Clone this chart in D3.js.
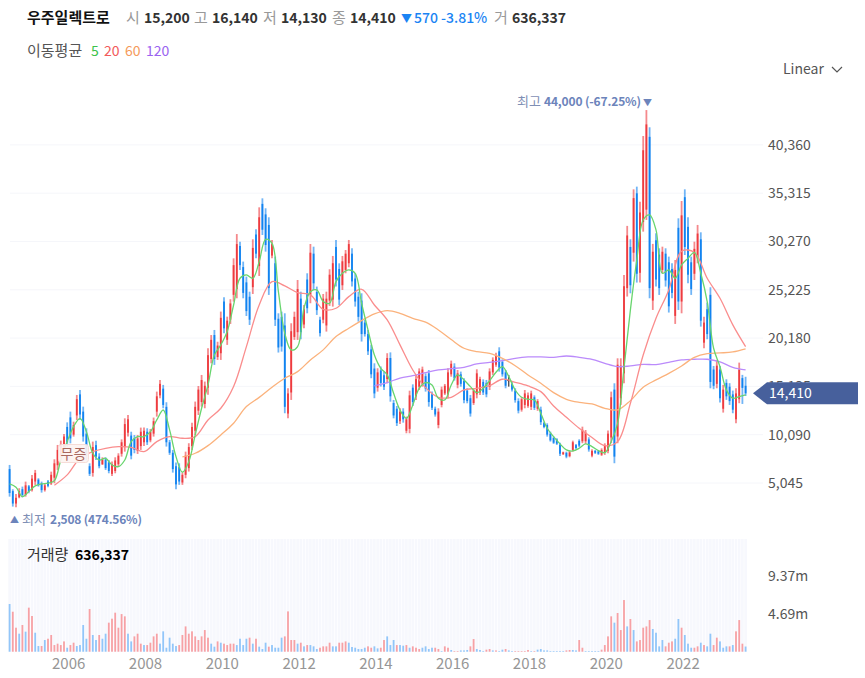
<!DOCTYPE html>
<html>
<head>
<meta charset="utf-8">
<script src="https://cdn.jsdelivr.net/npm/d3@7"></script>
<style>
    html, body { margin: 0; padding: 0; background: #fff; }
    text { font-family: "Noto Sans CJK KR", "Noto Sans", sans-serif; }
    .axis path, .axis line { display: none; }
</style>
</head>
<body>
<svg id="chart" width="865" height="678"></svg>
<script>
// monthly candles, 2004-07 onward
var highs = [6930,4390,3900,4500,4670,5190,4840,5890,6410,5540,
    5190,5020,5370,6230,7520,9020,9470,10170,11380,12500,
    11450,14240,14760,13020,10760,7100,9370,9470,8150,7730,
    7730,7450,7280,7730,8150,9600,11800,12150,10400,10060,
    10060,10830,10830,10760,10690,11880,14590,15810,15290,13480,
    9540,8500,7180,7100,6130,8320,9200,11350,13550,15180,
    16330,15640,19110,20500,21030,19800,22950,24440,22420,24240,
    28510,31050,30250,28170,26600,25030,30500,31540,33840,34780,
    33740,32800,30430,28690,22770,22940,22770,14940,21730,22940,
    26250,25030,23640,26950,30010,29730,25560,22420,24790,25030,
    27370,28760,30430,27990,28760,29380,30430,29560,26950,25030,
    24860,22080,21030,19470,17550,17030,17210,16680,18600,18690,
    13720,13090,12850,12850,11980,14690,15350,16330,17020,17200,
    16500,16850,14590,13020,12850,15110,15390,17020,17830,17550,
    16850,16680,15980,14940,14240,14940,16920,16150,15870,15810,
    17020,18170,18660,19220,17960,16850,16330,15630,14940,13890,
    14000,14760,14500,14690,14200,13800,13020,11450,11280,10410,
    9890,9720,9260,8320,8320,8390,9470,9130,9610,10930,
    10580,9820,8570,8500,8430,8670,9190,10520,14590,15460,
    18070,18070,26780,31900,30500,35720,36000,34430,41290,44000,
    42200,30020,31130,29560,29730,29560,28690,27990,28340,32690,
    34500,35720,32800,28690,30250,32000,31230,22420,23880,25490,
    17270,17900,17270,15290,15880,15470,14700,14940,17620,16340,
    16140];
var lows = [3620,2580,2508,3450,3550,3620,3970,4150,4840,4670,
    4040,4150,4600,4840,5020,6410,7630,8500,8840,9190,
    9890,11630,11630,9370,7450,5780,5710,7450,6580,6930,
    6410,6060,5780,6060,6760,7800,8320,9900,7520,8150,
    8080,8500,8920,9020,9300,9890,11980,13900,12850,8850,
    7980,6130,4390,4850,4850,5540,6240,8500,10060,12150,
    13020,12850,14250,17550,17380,17900,17900,20680,19470,21660,
    23990,24340,27300,24340,22490,21550,24790,28520,26670,30950,
    29210,24690,28520,21450,18670,18770,12330,11810,13720,19990,
    19990,20060,21200,22770,23820,25210,22600,20340,21730,20860,
    23540,23470,25560,23640,25210,26950,27580,25560,23470,21900,
    19820,20340,18420,15990,13900,14590,15120,14770,15460,13540,
    11800,11000,11210,11350,10240,10240,13090,13720,14760,15110,
    14590,13020,12670,11980,10760,12950,14240,13890,16150,15740,
    14940,15110,13370,13370,11980,13200,13890,14240,14240,14000,
    14760,16330,17200,16680,16150,14940,15110,14590,13440,12320,
    12500,12850,12900,12670,12670,12590,11110,10760,9890,9370,
    9130,9020,7870,7980,7630,7730,8320,8570,8780,9200,
    9130,8320,7730,8080,7980,7870,7980,8150,9200,7110,
    9200,13200,15460,24520,24860,28170,25980,25980,31300,32520,
    24340,23120,25560,24690,26950,25560,22850,24340,21660,23120,
    22770,28860,25900,24690,26250,27990,21380,19120,20060,14940,
    14840,14940,13450,12400,13730,13200,12330,11290,13380,13300,
    14130];
var opens = [6500,4200,2900,3550,4400,3800,4700,4300,5200,5400,
    5000,4300,5200,5000,5600,6900,8000,8800,10900,11900,
    10100,12100,14300,12500,10200,6800,6100,9000,7800,7000,
    7500,7200,6000,6300,7000,8100,8800,10300,10000,9700,
    8400,8900,9300,10400,9500,10200,12500,14200,14900,13000,
    9300,8200,6800,6700,5100,5900,6600,8900,10500,12600,
    13500,13300,15000,18000,20500,18200,18600,24000,20000,22100,
    24700,25300,29800,27600,26000,24500,25500,31000,27700,34200,
    33100,32000,28800,28000,22200,22400,21500,12300,14500,20300,
    20800,24300,21600,26300,24700,29000,25000,22100,22100,21500,
    24100,24200,29700,27400,25700,27300,28000,29000,26400,24500,
    24100,21800,20600,19000,17000,15000,16800,16300,15900,18100,
    13400,12800,11500,12500,10500,10700,15000,14100,15100,15400,
    16200,16500,14300,12800,11100,13200,14400,14300,16400,17200,
    15300,16400,15700,14700,13900,13400,14300,14500,15600,15500,
    15100,16600,17400,18800,17700,16600,15800,15400,14700,13600,
    12700,13200,13100,13000,14000,12800,12700,11300,11100,10200,
    9750,9600,9050,8050,8200,7850,8500,9000,9450,9400,
    9400,9600,7900,8400,8350,8000,8200,8400,9800,14800,
    9900,13900,16500,25400,29700,29100,35300,27000,32300,33600,
    41200,24100,30400,28900,27300,29000,28100,27400,22500,31700,
    24000,34900,31800,28100,26900,28600,30500,19700,23200,24700,
    16900,15400,16900,12800,15500,15100,14300,11700,13800,16000,
    15200];
var closes = [4000,2900,3500,4200,3800,4800,4150,5500,6100,4800,
    4300,4800,4750,5900,7100,8500,9100,9900,9300,9700,
    11100,13800,12200,9900,7900,6000,8800,7800,6800,7500,
    6600,6300,7000,7400,7900,9300,11200,11700,7900,8500,
    9700,10400,10500,9300,10400,11500,14100,15400,13200,9300,
    8200,6500,4900,5200,5900,7900,8800,10900,13000,14800,
    15800,15200,18400,20000,18000,19400,22300,21200,22000,23800,
    27800,30000,27800,24900,23000,22100,29600,29000,32800,31500,
    29900,25400,30000,22100,19200,19300,13000,14400,20900,22400,
    25300,20800,23200,23300,29100,25900,23100,20700,24300,24300,
    26800,28000,26300,24200,28200,29000,30000,26100,24000,22400,
    20600,20600,18800,16400,14400,16600,15500,15100,18100,14100,
    12100,11300,12500,11700,11700,14200,13500,15900,16700,16900,
    14900,13500,12900,12200,12500,14800,15200,16600,17500,16000,
    16500,15400,13700,13600,12300,14700,16500,15900,14500,14300,
    16700,17900,18400,17100,16400,15200,15800,14800,13700,12600,
    13800,14400,14200,14400,12900,13600,11400,10900,10100,9500,
    9250,9150,8100,8250,7800,8250,9300,8700,8950,10600,
    10300,8550,8400,8200,8100,8500,9000,10200,14000,7800,
    17400,17300,25600,30900,25700,34800,26900,33300,39800,42500,
    25400,29200,26300,25400,29200,26200,23500,24900,27300,24000,
    33000,29700,26800,25300,29500,31100,22000,21800,20600,15600,
    15200,17300,13900,14800,14100,13600,12700,14400,16900,14980,
    14410];

// moving averages, every few months
var ma5Start = 0, ma5Step = 2;
var ma5 = [4950,4600,3620,4150,4740,4950,5020,5290,7450,9370,
    10930,11800,10410,8150,7450,7630,6930,6760,7450,9370,
    9890,9890,10410,11630,12670,10590,7800,6170,7280,10070,
    12850,15290,18420,19470,20860,23640,26430,26780,26430,28170,
    30500,30080,25030,20680,18940,19290,23300,25030,25210,24000,
    23820,26080,26950,27300,26950,23820,21030,18420,17030,16340,
    14410,12670,11800,13200,14940,15530,15280,13890,13720,15280,
    16330,15810,15110,14480,14940,15740,16610,17200,16150,14760,
    14000,13790,13720,12330,10760,9890,9130,8500,8390,8670,
    9130,8850,8430,8220,9370,11280,17030,23130,28350,32520,
    33040,31480,26950,27300,26430,27820,28510,29140,26950,24000,
    19120,17200,14770,13900,14070,14250];
var ma20Start = 14, ma20Step = 4;
var ma20 = [4810,5890,7630,8320,8670,8840,8770,8320,9370,9890,
    9720,9890,11630,12850,15120,19290,23640,26080,25630,24930,
    24690,23190,23300,24510,25280,23640,22080,19470,16850,15010,
    14000,14000,14760,14940,15210,15880,15560,15180,14590,13090,
    11910,10760,9800,8950,9370,13370,18420,22250,25210,29250,
    29130,26430,24340,21560,19290];
var ma60Start = 54, ma60Step = 4;
var ma60 = [7770,8150,8950,10070,11290,13030,13990,15050,15990,16680,
    17900,18950,20340,21210,22010,22700,23040,22770,22250,21850,
    21030,20030,19120,18760,18590,18070,17300,16330,15460,14480,
    13790,13470,13300,12850,12680,13650,15040,15810,16500,17270,
    18170,18560,18630,18730,19050];
var ma120Start = 114, ma120Step = 4;
var ma120 = [15190,15530,16000,16260,16570,16850,16990,17130,17480,17650,
    17820,18070,18210,18210,18170,18310,18170,17960,17550,17200,
    17270,17440,17410,17650,17900,17970,17970,17690,17130,16850];

// monthly volume in thousands, 1 = red bar, 0 = blue bar
var volumes = [5880,4930,2960,2220,3290,2470,5430,4400,2340,700,
    700,1440,1600,2060,820,990,820,1270,490,820,
    1110,700,820,3290,1600,5260,2060,1440,2060,1600,
    2220,3580,4070,4810,2960,4640,4360,2220,1270,1890,
    2220,990,820,820,1110,1890,2220,990,2510,490,
    1730,990,700,820,2060,3120,2220,2510,1890,1440,
    1890,2670,1730,990,620,1270,1110,990,820,990,
    990,820,1600,820,1600,1730,990,1600,620,330,
    1110,620,820,490,490,1730,1890,4970,1440,1440,
    990,1110,660,820,820,660,330,490,660,660,
    1110,660,660,1110,1110,1270,1110,580,490,330,
    330,490,660,490,660,410,490,1440,1890,820,
    1440,820,820,740,820,490,660,490,330,490,
    660,330,490,490,330,80,660,490,210,80,
    80,160,160,210,660,1560,330,210,80,250,
    330,160,160,80,250,330,160,80,80,80,
    80,80,210,80,80,250,330,160,160,80,
    80,80,80,80,160,210,210,160,1440,490,
    80,80,80,80,80,250,820,1890,4360,3580,
    4770,2670,6370,3120,4030,2670,1270,1440,2960,3120,
    3900,2800,2340,660,1440,660,1110,1270,1600,4030,
    2960,2060,990,490,490,660,1110,820,660,2220,
    820,1730,1270,490,660,660,820,2510,3900,990,
    636];
var volumeRed = ("0110101100" + "1011111101" + "1000010010" + "0111111001" +
    "1101111000" + "0001111111" + "1110010111" + "1000010100" +
    "0100001111" + "0101000111" + "1001110000" + "0011001100" +
    "01" + "00101110" + "0001101101" + "1000110001" + "1010010011" +
    "1110100000" + "0000110011" + "0000011110" + "1110101111" +
    "1000011100" + "1000110100" + "1100010111" + "0").split("");

var priceTicks = [5045, 10090, 15135, 20180, 25225, 30270, 35315, 40360];
var volumeTicks = [4690, 9370];
var yearTicks = [2006, 2008, 2010, 2012, 2014, 2016, 2018, 2020, 2022];
var firstYear = 2004, firstMonth = 7;
var lastPrice = 14410;

var svg = d3.select('#chart');
var red = '#ee3b3f', blue = '#1283f0', grid = '#f5f6fa';
var months = d3.range(highs.length);

var x = d3.scaleBand().domain(months).range([8, 8 + 3.2 * months.length]);
var y = d3.scaleLinear().domain([0, 40360]).range([531.3, 144.9]);
var yVol = d3.scaleLinear().domain([0, 9370]).range([651.7, 575.7]);

function cx(i) { return x(i) + x.bandwidth() / 2; }
function yearIndex(yr) { return (yr - firstYear) * 12 - (firstMonth - 1); }

// price grid
svg.append('g').selectAll('line').data(priceTicks).join('line')
    .attr('x1', 10).attr('x2', 763)
    .attr('y1', y).attr('y2', y)
    .attr('stroke', grid);

// candles: a lighter wick under a solid body
var candles = svg.append('g').selectAll('g').data(months).join('g');
candles.append('line')
    .attr('x1', cx).attr('x2', cx)
    .attr('y1', function (i) { return y(highs[i]); })
    .attr('y2', function (i) { return y(lows[i]); })
    .attr('stroke', function (i) {
        if (opens[i] === closes[i]) { return '#111'; }
        return closes[i] > opens[i] ? red : blue;
    })
    .attr('stroke-opacity', function (i) { return opens[i] === closes[i] ? 1 : 0.6; })
    .attr('stroke-width', function (i) { return opens[i] === closes[i] ? 1 : 1.8; });
candles.append('rect')
    .attr('x', function (i) { return cx(i) - (opens[i] === closes[i] ? 1.5 : 0.9); })
    .attr('width', function (i) { return opens[i] === closes[i] ? 3 : 1.8; })
    .attr('y', function (i) { return y(Math.max(opens[i], closes[i])); })
    .attr('height', function (i) { return Math.max(1, Math.abs(y(opens[i]) - y(closes[i]))); })
    .attr('fill', function (i) {
        if (opens[i] === closes[i]) { return '#111'; }
        return closes[i] > opens[i] ? red : blue;
    });

// moving average lines
function drawMA(values, start, step, color) {
    var line = d3.line()
        .x(function (d, k) { return cx(start + k * step); })
        .y(function (d) { return y(d); })
        .curve(d3.curveCatmullRom.alpha(0.5));
    svg.append('path')
        .attr('d', line(values))
        .attr('fill', 'none')
        .attr('stroke', color)
        .attr('stroke-width', 1.3);
}
drawMA(ma120, ma120Start, ma120Step, '#bb8bfb');
drawMA(ma60, ma60Start, ma60Step, '#fbb27c');
drawMA(ma20, ma20Start, ma20Step, '#fa8d8d');
drawMA(ma5, ma5Start, ma5Step, '#68d56e');

// price axis
svg.append('g').attr('class', 'axis')
    .attr('transform', 'translate(764,0)')
    .call(d3.axisRight(y).tickValues(priceTicks).tickSize(0).tickPadding(4).tickFormat(d3.format(',')))
    .call(function (g) {
        g.selectAll('text').style('font-size', '14px').attr('fill', '#555')
            .style('font-family', '"Noto Sans CJK KR"');
    });

// bonus-issue flag
svg.append('rect')
    .attr('x', 58.5).attr('y', 444.5).attr('width', 30).attr('height', 18).attr('rx', 3)
    .attr('fill', '#fdf3f1').attr('fill-opacity', 0.92).attr('stroke', '#f6dcd7');
svg.append('text').attr('x', 73.5).attr('y', 458.5).attr('text-anchor', 'middle')
    .attr('font-size', 14).attr('fill', '#a9685f').text('무증');

// last price tag
var tagY = y(lastPrice);
svg.append('path')
    .attr('d', d3.line()([[753, tagY], [767, tagY - 11], [858, tagY - 11], [858, tagY + 11], [767, tagY + 11]]) + 'Z')
    .attr('fill', '#47609c');
svg.append('text').attr('x', 769).attr('y', tagY + 5).attr('font-size', 14).attr('fill', '#fff')
    .text(d3.format(',')(lastPrice));

// high and low notes
var noteColor = '#6c84bb';
svg.append('text').attr('x', 517).attr('y', 106).attr('font-size', 13).attr('fill', '#7f8fb5').text('최고');
svg.append('text').attr('x', 544).attr('y', 106).attr('font-size', 12).attr('font-weight', 700)
    .attr('fill', noteColor).attr('textLength', 97).text('44,000 (-67.25%)');
svg.append('text').attr('x', 643).attr('y', 105.5).attr('font-size', 9).attr('fill', noteColor).text('▼');
svg.append('text').attr('x', 10).attr('y', 523).attr('font-size', 9).attr('fill', noteColor).text('▲');
svg.append('text').attr('x', 22).attr('y', 523.5).attr('font-size', 13).attr('fill', '#7f8fb5').text('최저');
svg.append('text').attr('x', 50).attr('y', 523.5).attr('font-size', 12).attr('font-weight', 700)
    .attr('fill', noteColor).attr('textLength', 92).text('2,508 (474.56%)');

// volume panel
svg.append('g').selectAll('rect').data(months).join('rect')
    .attr('x', function (i) { return x(i) + 0.3; })
    .attr('width', 2.6)
    .attr('y', 539).attr('height', 113)
    .attr('fill', '#f7f8fd');
svg.append('g').selectAll('rect').data(months).join('rect')
    .attr('x', function (i) { return cx(i) - 0.9; })
    .attr('width', 1.8)
    .attr('y', function (i) { return yVol(volumes[i]); })
    .attr('height', function (i) { return yVol(0) - yVol(volumes[i]); })
    .attr('fill', function (i) { return volumeRed[i] === '1' ? '#f7a1a5' : '#92c6f9'; });

svg.append('g').attr('class', 'axis')
    .attr('transform', 'translate(764,0)')
    .call(d3.axisRight(yVol).tickValues(volumeTicks).tickSize(0).tickPadding(4)
        .tickFormat(function (d) { return (d / 1000).toFixed(2) + 'm'; }))
    .call(function (g) {
        g.selectAll('text').style('font-size', '14px').attr('fill', '#555')
            .style('font-family', '"Noto Sans CJK KR"');
    });

// year axis
var xAxisScale = d3.scaleLinear().domain([0, 1]).range([cx(0), cx(1)]);
svg.append('g').attr('class', 'axis')
    .attr('transform', 'translate(1,652)')
    .call(d3.axisBottom(xAxisScale).tickValues(yearTicks.map(yearIndex)).tickSize(0).tickPadding(6)
        .tickFormat(function (d) { return yearTicks[yearTicks.map(yearIndex).indexOf(d)]; }))
    .call(function (g) {
        g.selectAll('text').style('font-size', '15px').attr('fill', '#969696')
            .style('font-family', '"Noto Sans CJK KR"');
    });

// header rows
var headerRow = [
    { x: 27, t: '우주일렉트로', c: '#111', w: 700, s: 15 },
    { x: 126, t: '시', c: '#999', w: 400, s: 15 }, { x: 144, t: '15,200', c: '#333', w: 700, s: 14 },
    { x: 194, t: '고', c: '#999', w: 400, s: 15 }, { x: 212, t: '16,140', c: '#333', w: 700, s: 14 },
    { x: 263, t: '저', c: '#999', w: 400, s: 15 }, { x: 281, t: '14,130', c: '#333', w: 700, s: 14 },
    { x: 332, t: '종', c: '#999', w: 400, s: 15 }, { x: 350, t: '14,410', c: '#333', w: 700, s: 14 },
    { x: 414, t: '570', c: '#1a84f4', w: 500, s: 14 }, { x: 441, t: '-3.81%', c: '#1a84f4', w: 500, s: 14 },
    { x: 494, t: '거', c: '#999', w: 400, s: 15 }, { x: 512, t: '636,337', c: '#333', w: 700, s: 14 }
];
svg.append('g').selectAll('text').data(headerRow).join('text')
    .attr('x', function (d) { return d.x; }).attr('y', 23)
    .attr('font-size', function (d) { return d.s; })
    .attr('font-weight', function (d) { return d.w; })
    .attr('fill', function (d) { return d.c; })
    .text(function (d) { return d.t; });
svg.append('text').attr('x', 401).attr('y', 23).attr('font-size', 11).attr('fill', '#1a84f4').text('▼');

var legendRow = [
    { x: 27, t: '이동평균', c: '#555' }, { x: 91, t: '5', c: '#3cc24a' }, { x: 104, t: '20', c: '#f25a5a' },
    { x: 125, t: '60', c: '#f59a5a' }, { x: 146, t: '120', c: '#9a63f0' }
];
svg.append('g').selectAll('text').data(legendRow).join('text')
    .attr('x', function (d) { return d.x; }).attr('y', 56)
    .attr('font-size', function (d, k) { return k === 0 ? 15 : 14; })
    .attr('fill', function (d) { return d.c; })
    .text(function (d) { return d.t; });

// scale switch
svg.append('text').attr('x', 783).attr('y', 74).attr('font-size', 14).attr('fill', '#555').text('Linear');
svg.append('path').attr('d', 'M832,67 L837,72 L842,67').attr('fill', 'none').attr('stroke', '#555').attr('stroke-width', 1.2);

// volume caption
svg.append('text').attr('x', 27).attr('y', 560).attr('font-size', 15).attr('fill', '#333').text('거래량');
svg.append('text').attr('x', 75).attr('y', 560).attr('font-size', 14).attr('font-weight', 700).attr('fill', '#000').text('636,337');
</script>
</body>
</html>
